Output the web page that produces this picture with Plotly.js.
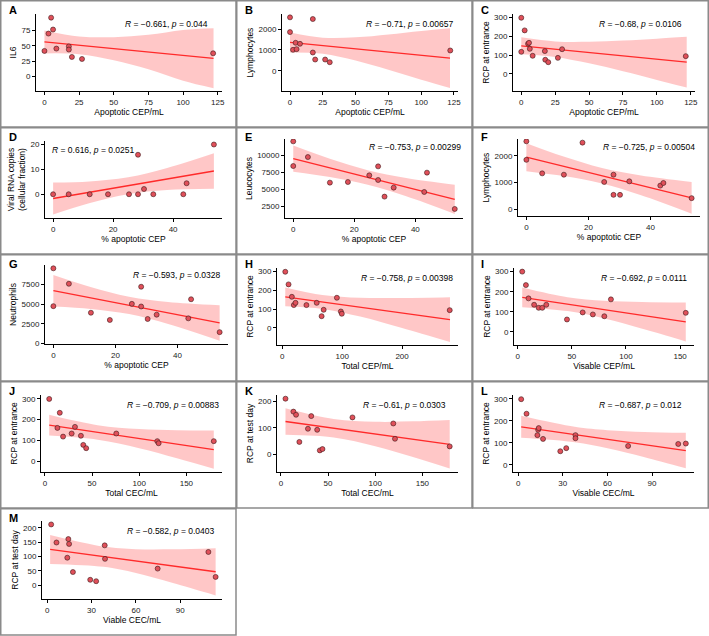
<!DOCTYPE html>
<html>
<head>
<meta charset="utf-8">
<script src="https://cdn.plot.ly/plotly-3.0.1.min.js"></script>
<style>
html, body { margin: 0; padding: 0; background: #fff; }
#fig { width: 709px; height: 636px; }
</style>
</head>
<body>
<div id="fig"></div>
<script>
// ---- A: IL6 vs apoptotic CEP/mL
var aX = [0, 2.9, 4.8, 6.2, 8.6, 17.6, 17.6, 19.8, 27.1, 121.7];
var aY = [41.6, 70, 96, 76.6, 45.4, 49, 43.8, 31.7, 28.4, 37.7];
var aFitX = [0, 122], aFitY = [56.3, 29.5];
var aBandX = [0, 25, 50, 75, 100, 122];
var aBandHi = [75.1, 65.3, 64.1, 67.9, 75.8, 78.5];
var aBandLo = [37.5, 36.3, 26.5, 11.7, -7.2, -19.5];

// ---- B: lymphocytes vs apoptotic CEP/mL
var bX = [0, 0, 2.3, 4.3, 5, 7.6, 17.4, 17.4, 19.2, 26.8, 30.3, 122.2];
var bY = [2560, 1856, 1008, 1344, 1040, 1296, 2480, 880, 544, 544, 416, 976];
var bFitX = [0, 122], bFitY = [1360, 608];
var bBandX = [0, 25, 50, 75, 100, 122];
var bBandHi = [1840, 1590, 1607, 1743, 1911, 2040];
var bBandLo = [880, 822, 497, 53, -423, -820];

// ---- C: RCP at entrance vs apoptotic CEP/mL
var cX = [0, 0, 2.5, 5, 5.7, 6.3, 8.4, 17.4, 17.7, 19.9, 27, 30.1, 121.3];
var cY = [298, 117, 231, 160, 165, 133, 96, 121, 75, 62, 85, 131, 94];
var cFitX = [0, 122], cFitY = [149, 62];
var cBandX = [0, 25, 50, 75, 100, 122];
var cBandHi = [194, 172, 170, 177, 187, 197];
var cBandLo = [104, 90, 56, 14, -32, -73];

// ---- D: viral RNA vs % apoptotic CEP
var dX = [0, 5.2, 12.2, 18.3, 25.3, 28.3, 28.3, 30.3, 33.4, 43.4, 44.5, 53.6];
var dY = [0, 0, 0, 0, 0, 0, 15.8, 2.1, 0, 0, 4.4, 19.9];
var dFitX = [0, 53.6], dFitY = [-1.7, 9.3];
var dBandX = [0, 12, 25, 38, 53.6];
var dBandHi = [4.7, 5.15, 6.8, 10.5, 16.4];
var dBandLo = [-8.1, -3.6, 0.05, 1.7, 2.2];

// ---- E: leucocytes vs % apoptotic CEP
var eX = [0, 0, 4.8, 12, 17.9, 24.9, 27.8, 27.8, 29.9, 32.9, 42.9, 43.8, 52.9];
var eY = [12070, 8420, 9750, 5960, 6050, 7040, 8370, 6350, 3890, 5220, 4580, 7440, 2060];
var eFitX = [0, 52.9], eFitY = [9507, 3491];
var eBandX = [0, 12, 24.4, 37, 52.9];
var eBandHi = [11440, 9490, 7800, 6655, 5654];
var eBandLo = [7574, 6796, 5663, 3945, 1328];

// ---- F: lymphocytes vs % apoptotic CEP
var fX = [0, 0, 5.1, 12.1, 18.1, 25.1, 28.1, 28.1, 30.2, 33.2, 43.2, 44.2, 53.3];
var fY = [2547, 1851, 1342, 1292, 2497, 1019, 1292, 534, 534, 1043, 882, 981, 410];
var fFitX = [0, 53.3], fFitY = [1950, 422];
var fBandX = [0, 12, 24.4, 37, 53.3];
var fBandHi = [2476, 1972, 1541, 1258, 1017];
var fBandLo = [1424, 1240, 959, 520, -173];

// ---- G: neutrophils vs % apoptotic CEP
var gX = [0, 0, 5, 12.1, 18.2, 25.3, 28.3, 28.3, 30.4, 33.3, 43.5, 44.4, 53.6];
var gY = [9548, 4732, 7580, 3894, 2973, 5025, 7203, 4690, 3099, 3643, 3183, 5611, 1424];
var gFitX = [0, 53.6], gFitY = [6700, 2596];
var gBandX = [0, 12, 24.4, 37, 53.6];
var gBandHi = [8703, 7177, 5940, 5270, 4861];
var gBandLo = [4697, 4385, 3722, 2462, 331];

// ---- H: RCP at entrance vs total CEP/mL
var hX = [5, 10.5, 16, 19.3, 22.1, 40.3, 57.5, 65.7, 69.1, 91.2, 97.8, 99.4, 279.6];
var hY = [298, 231, 165, 121, 133, 121, 133, 62, 96, 160, 87, 75, 94];
var hFitX = [5, 280], hFitY = [165, 44];
var hBandX = [5, 67, 130, 200, 280];
var hBandHi = [215, 174.6, 159.8, 158.9, 163];
var hBandLo = [115, 100.8, 60.2, -0.5, -75];

// ---- I: RCP at entrance vs visable CEP/mL
var iX = [4.2, 7.6, 10, 15.2, 19.4, 22.7, 26.4, 45.5, 60, 69.4, 80, 86.1, 155.2];
var iY = [300, 233, 167, 135, 120, 120, 135, 62, 97, 87, 78, 162, 95];
var iFitX = [4.2, 155.2], iFitY = [172, 50];
var iBandX = [4.2, 46, 80, 115, 155.2];
var iBandHi = [221, 172.9, 155.4, 149.4, 147];
var iBandLo = [123, 103.5, 66.2, 15.6, -47];

// ---- J: RCP at entrance vs total CEC/mL
var jX = [4.6, 13.3, 15.8, 19.3, 28.4, 31.9, 38.2, 40.7, 43.8, 75.7, 119.2, 120.6, 179.1];
var jY = [300, 160, 233, 118, 133, 165, 122, 78, 62, 133, 96, 86, 96];
var jFitX = [4.6, 179.1], jFitY = [173, 55];
var jBandX = [4.6, 56, 100, 140, 179.1];
var jBandHi = [223, 173.1, 154.7, 149.2, 147];
var jBandLo = [123, 103.3, 62.3, 13.8, -37];

// ---- K: RCP at test day vs total CEC/mL
var kX = [4.9, 13.3, 16.1, 19.6, 28.7, 32.2, 38.5, 41.3, 44.1, 75.9, 119.2, 121, 179];
var kY = [210, 161, 149, 46, 96, 144, 92, 14, 19, 139, 116, 58, 29];
var kFitX = [4.9, 179], kFitY = [123.5, 37];
var kBandX = [4.9, 56, 100, 140, 179];
var kBandHi = [173.5, 133, 122.4, 124, 129];
var kBandLo = [73.5, 63.2, 30, -11.4, -55];

// ---- L: RCP at entrance vs visable CEC/mL
var lX = [2, 5.6, 12.9, 13.4, 13.8, 16.7, 28.3, 32.3, 38.5, 38.5, 73.9, 107.6, 112.7];
var lY = [298, 232, 135, 159, 167, 118, 62, 76, 135, 121, 86, 95, 97];
var lFitX = [2, 112.7], lFitY = [173, 65];
var lBandX = [2, 38, 60, 85, 112.7];
var lBandHi = [222.5, 172.6, 157.1, 149.3, 145.4];
var lBandLo = [123.5, 103.2, 75.7, 34.7, -15.4];

// ---- M: RCP at test day vs viable CEC/mL
var mX = [2.7, 6.3, 14.3, 14.8, 13.6, 17.4, 29.1, 33.1, 38.9, 39.1, 74.7, 109, 113.9];
var mY = [212, 149, 161, 144, 96, 46, 19, 14, 139, 92, 58, 116, 29];
var mFitX = [2, 113.9], mFitY = [125, 47];
var mBandX = [2, 38, 60, 85, 113.9];
var mBandHi = [175.6, 135.2, 125.8, 125.2, 129.4];
var mBandLo = [74.4, 64.2, 42.6, 8, -35.4];

// correlation labels
var statR = ['−0.661', '−0.71', '−0.68', '0.616', '−0.753', '−0.725', '−0.593', '−0.758', '−0.692', '−0.709', '−0.61', '−0.687', '−0.582'];
var statP = ['0.044', '0.00657', '0.0106', '0.0251', '0.00299', '0.00504', '0.0328', '0.00398', '0.0111', '0.00883', '0.0303', '0.012', '0.0403'];

var ticksApopCEP = [0, 25, 50, 75, 100, 125];
var ticksPct = [0, 20, 40];
var ticksCEC = [0, 50, 100, 150];
var ticksViable = [0, 30, 60, 90];
var ticksRCP = [0, 100, 200, 300];

var W = 709, H = 636;
var colX = [0, 236, 472];
var rowY = [0, 127, 254, 381, 508];

// box = [left, right, top, bottom] of plot area inside the panel (px)
var panels = [
  {tag: 'A', col: 0, row: 0, x: aX, y: aY, fx: aFitX, fy: aFitY, bx: aBandX, hi: aBandHi, lo: aBandLo,
   xt: 'Apoptotic CEP/mL', yt: 'IL6', xticks: ticksApopCEP, yticks: [0, 25, 50, 75],
   xr: [-6.1, 128.1], yr: [-24, 102], box: [36, 222, 14, 91], st: [210, 24, 'right']},
  {tag: 'B', col: 1, row: 0, x: bX, y: bY, fx: bFitX, fy: bFitY, bx: bBandX, hi: bBandHi, lo: bBandLo,
   xt: 'Apoptotic CEP/mL', yt: 'Lymphocytes', xticks: ticksApopCEP, yticks: [0, 1000, 2000],
   xr: [-6.1, 128.1], yr: [-960, 2720], box: [46, 222, 14, 91], st: [219, 24, 'right']},
  {tag: 'C', col: 2, row: 0, x: cX, y: cY, fx: cFitX, fy: cFitY, bx: cBandX, hi: cBandHi, lo: cBandLo,
   xt: 'Apoptotic CEP/mL', yt: 'RCP at entrance', xticks: ticksApopCEP, yticks: ticksRCP,
   xr: [-6.1, 128.1], yr: [-91, 318], box: [41, 223, 14, 91], st: [212, 24, 'right']},
  {tag: 'D', col: 0, row: 1, x: dX, y: dY, fx: dFitX, fy: dFitY, bx: dBandX, hi: dBandHi, lo: dBandLo,
   xt: '% apoptotic CEP', yt: 'Viral RNA copies<br>(cellular fraction)', xticks: ticksPct, yticks: [0, 10, 20],
   xr: [-2.7, 56.3], yr: [-9.5, 21.3], box: [45, 222, 14, 91], st: [50, 23, 'left']},
  {tag: 'E', col: 1, row: 1, x: eX, y: eY, fx: eFitX, fy: eFitY, bx: eBandX, hi: eBandHi, lo: eBandLo,
   xt: '% apoptotic CEP', yt: 'Leucocytes', xticks: ticksPct, yticks: [2500, 5000, 7500, 10000],
   xr: [-2.7, 55.6], yr: [725, 12420], box: [49, 227, 12, 91], st: [227, 20, 'right']},
  {tag: 'F', col: 2, row: 1, x: fX, y: fY, fx: fFitX, fy: fFitY, bx: fBandX, hi: fBandHi, lo: fBandLo,
   xt: '% apoptotic CEP', yt: 'Lymphocytes', xticks: ticksPct, yticks: [0, 1000, 2000],
   xr: [-2.7, 56], yr: [-261, 2634], box: [46, 228, 12, 89], st: [225, 20, 'right']},
  {tag: 'G', col: 0, row: 2, x: gX, y: gY, fx: gFitX, fy: gFitY, bx: gBandX, hi: gBandHi, lo: gBandLo,
   xt: '% apoptotic CEP', yt: 'Neutrophils', xticks: ticksPct, yticks: [0, 2500, 5000, 7500],
   xr: [-2.7, 56.3], yr: [-84, 9970], box: [45, 228, 11, 90], st: [222, 21, 'right']},
  {tag: 'H', col: 1, row: 2, x: hX, y: hY, fx: hFitX, fy: hFitY, bx: hBandX, hi: hBandHi, lo: hBandLo,
   xt: 'Total CEP/mL', yt: 'RCP at entrance', xticks: [0, 100, 200], yticks: ticksRCP,
   xr: [-8.8, 293.4], yr: [-91, 318], box: [41, 222, 14, 91], st: [219, 24, 'right']},
  {tag: 'I', col: 2, row: 2, x: iX, y: iY, fx: iFitX, fy: iFitY, bx: iBandX, hi: iBandHi, lo: iBandLo,
   xt: 'Visable CEP/mL', yt: 'RCP at entrance', xticks: ticksCEC, yticks: ticksRCP,
   xr: [-3.4, 162.8], yr: [-65, 318], box: [42, 222, 14, 91], st: [217, 24, 'right']},
  {tag: 'J', col: 0, row: 3, x: jX, y: jY, fx: jFitX, fy: jFitY, bx: jBandX, hi: jBandHi, lo: jBandLo,
   xt: 'Total CEC/mL', yt: 'RCP at entrance', xticks: ticksCEC, yticks: ticksRCP,
   xr: [-4.1, 187.8], yr: [-53, 319], box: [41, 222, 14, 91], st: [221, 24, 'right']},
  {tag: 'K', col: 1, row: 3, x: kX, y: kY, fx: kFitX, fy: kFitY, bx: kBandX, hi: kBandHi, lo: kBandLo,
   xt: 'Total CEC/mL', yt: 'RCP at test day', xticks: ticksCEC, yticks: [0, 100, 200],
   xr: [-4.1, 187.8], yr: [-68, 224], box: [41, 222, 14, 91], st: [212, 24, 'right']},
  {tag: 'L', col: 2, row: 3, x: lX, y: lY, fx: lFitX, fy: lFitY, bx: lBandX, hi: lBandHi, lo: lBandLo,
   xt: 'Visable CEC/mL', yt: 'RCP at entrance', xticks: ticksViable, yticks: ticksRCP,
   xr: [-3.5, 118.2], yr: [-32, 317], box: [41, 222, 14, 91], st: [212, 24, 'right']},
  {tag: 'M', col: 0, row: 4, x: mX, y: mY, fx: mFitX, fy: mFitY, bx: mBandX, hi: mBandHi, lo: mBandLo,
   xt: 'Viable CEC/mL', yt: 'RCP at test day', xticks: ticksViable, yticks: [0, 50, 100, 150, 200],
   xr: [-3.5, 118.2], yr: [-48, 224], box: [42, 222, 13, 91], st: [216, 23, 'right']}
];

var FONT = 'Liberation Sans, Arial, sans-serif';
var traces = [];
var annotations = [];
var shapes = [];
var layout = {
  width: W, height: H,
  margin: {l: 0, r: 0, t: 0, b: 0},
  paper_bgcolor: '#fff', plot_bgcolor: '#fff',
  showlegend: false,
  font: {family: FONT, size: 8, color: '#000'}
};

function px(v) { return v / W; }
function py(v) { return 1 - v / H; }

for (var i = 0; i < panels.length; i++) {
  var p = panels[i];
  var n = i + 1;
  var xa = n === 1 ? 'x' : 'x' + n;
  var ya = n === 1 ? 'y' : 'y' + n;
  var x0 = colX[p.col], y0 = rowY[p.row];

  traces.push({
    x: p.bx, y: p.lo, xaxis: xa, yaxis: ya, type: 'scatter', mode: 'lines',
    line: {width: 0, shape: 'spline', smoothing: 1}, hoverinfo: 'skip'
  });
  traces.push({
    x: p.bx, y: p.hi, xaxis: xa, yaxis: ya, type: 'scatter', mode: 'lines',
    line: {width: 0, shape: 'spline', smoothing: 1}, fill: 'tonexty',
    fillcolor: 'rgba(255, 0, 0, 0.22)', hoverinfo: 'skip'
  });
  traces.push({
    x: p.fx, y: p.fy, xaxis: xa, yaxis: ya, type: 'scatter', mode: 'lines',
    line: {color: '#ff2a2a', width: 1.3}
  });
  traces.push({
    x: p.x, y: p.y, xaxis: xa, yaxis: ya, type: 'scatter', mode: 'markers',
    marker: {size: 5, color: '#e0505a', line: {color: '#3a1a1a', width: 0.6}}
  });

  var axBase = {
    showline: true, linecolor: '#000', linewidth: 1,
    ticks: 'outside', ticklen: 3, tickwidth: 1, tickcolor: '#000',
    showgrid: false, zeroline: false, tickformat: 'd',
    tickfont: {family: FONT, size: 8, color: '#222'}
  };
  layout['xaxis' + (n === 1 ? '' : n)] = Object.assign({}, axBase, {
    domain: [px(x0 + p.box[0]), px(x0 + p.box[1])],
    anchor: ya, range: p.xr, tickvals: p.xticks,
    title: {text: p.xt, font: {family: FONT, size: 8.5, color: '#000'}, standoff: 0}
  });
  layout['yaxis' + (n === 1 ? '' : n)] = Object.assign({}, axBase, {
    domain: [py(y0 + p.box[3]), py(y0 + p.box[2])],
    anchor: xa, range: p.yr, tickvals: p.yticks,
    title: {text: p.yt, font: {family: FONT, size: 8.5, color: '#000'}, standoff: 3}
  });

  // panel letter
  annotations.push({
    xref: 'paper', yref: 'paper', x: px(x0 + 7), y: py(y0 + 10),
    xanchor: 'left', yanchor: 'middle', showarrow: false,
    text: '<b>' + p.tag + '</b>', font: {family: FONT, size: 11, color: '#000'}
  });
  // correlation text
  annotations.push({
    xref: 'paper', yref: 'paper', x: px(x0 + p.st[0]), y: py(y0 + p.st[1]),
    xanchor: p.st[2], yanchor: 'middle', showarrow: false,
    text: '<i>R</i> = ' + statR[i] + ', <i>p</i> = ' + statP[i],
    font: {family: FONT, size: 8.5, color: '#000'}
  });
  // panel frame
  shapes.push({
    type: 'rect', xref: 'paper', yref: 'paper',
    x0: px(x0 + 0.75), x1: px(x0 + 236 + (p.col === 2 ? 0.25 : 0)),
    y0: py(y0 + 127), y1: py(y0 + 0.75),
    line: {color: '#8a8a8a', width: 1.5}
  });
}

layout.annotations = annotations;
layout.shapes = shapes;

Plotly.newPlot('fig', traces, layout, {staticPlot: true, displayModeBar: false});
</script>
</body>
</html>
